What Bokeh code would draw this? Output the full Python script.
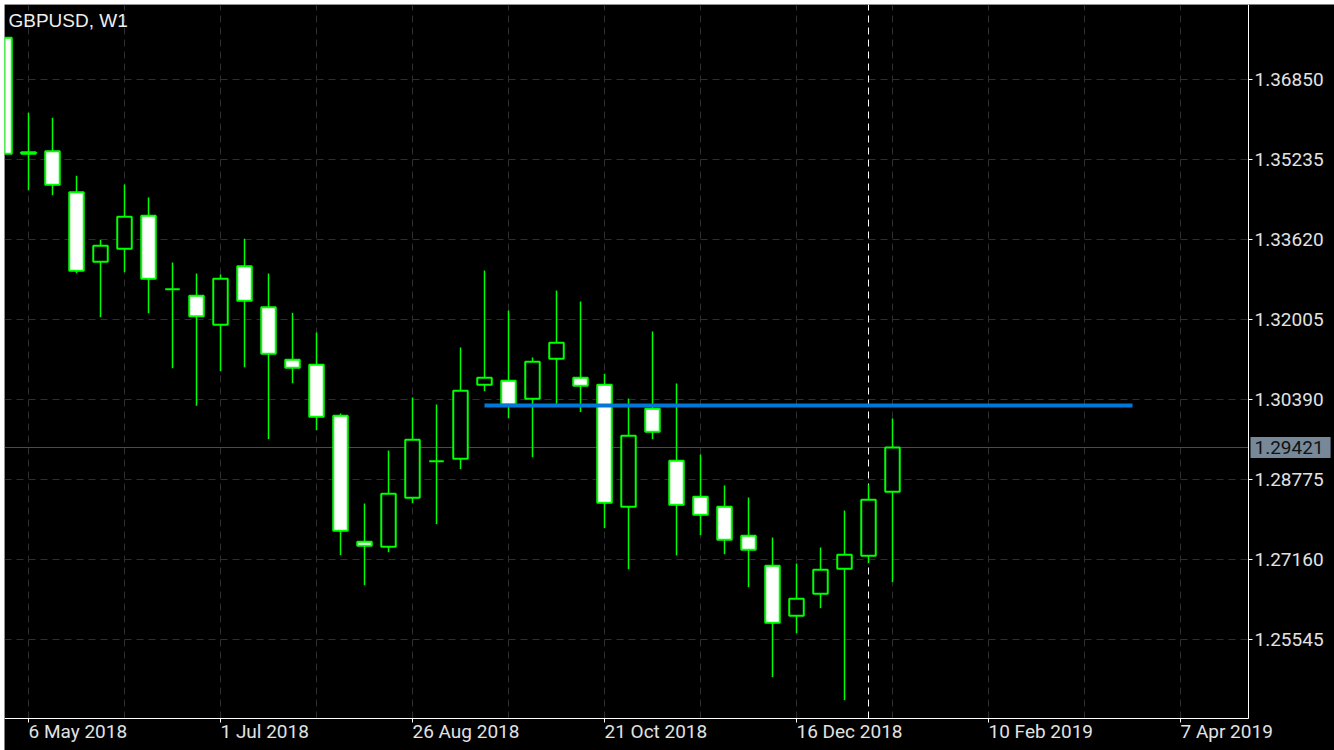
import pandas as pd
from bokeh.plotting import figure
from bokeh.models import (ColumnDataSource, FixedTicker, Label, Range1d, PrintfTickFormatter,
                          LinearAxis, DatetimeAxis, Grid, BoxAnnotation)
from bokeh.embed import file_html
from bokeh.resources import INLINE

# ---------------- data ----------------
chart_title = "GBPUSD, W1"
first_week = "2018-04-29"
n_weeks = 38
weeks = pd.date_range(first_week, periods=n_weeks, freq="7D")

open_ = [1.37692, 1.35350, 1.35403, 1.34575, 1.33170, 1.33432, 1.34098, 1.32617,
         1.32483, 1.31898, 1.33081, 1.32253, 1.31191, 1.31091, 1.30061, 1.27517,
         1.27416, 1.28406, 1.29144, 1.29193, 1.30687, 1.30768, 1.30404, 1.31212,
         1.30828, 1.30687, 1.28224, 1.30202, 1.29153, 1.28426, 1.28224, 1.27638,
         1.27033, 1.26023, 1.26468, 1.26972, 1.27235, 1.28527]
high = [1.37692, 1.36178, 1.36077, 1.34906, 1.33614, 1.34730, 1.34468, 1.33156,
        1.32934, 1.32913, 1.33634, 1.32934, 1.32140, 1.31743, 1.30107, 1.28290,
        1.29360, 1.30430, 1.30289, 1.31440, 1.32994, 1.32187, 1.31238, 1.32590,
        1.32368, 1.30909, 1.30410, 1.31763, 1.30713, 1.29280, 1.28654, 1.28412,
        1.27604, 1.27079, 1.27402, 1.28149, 1.28674, 1.30006]
low = [1.35350, 1.34615, 1.34514, 1.32940, 1.32051, 1.32960, 1.32132, 1.31022,
       1.30263, 1.30961, 1.31042, 1.29589, 1.30719, 1.29770, 1.27247, 1.26641,
       1.27307, 1.28297, 1.27873, 1.28983, 1.30558, 1.30012, 1.29225, 1.30300,
       1.30134, 1.27792, 1.26964, 1.29589, 1.27241, 1.27651, 1.27267, 1.26601,
       1.24784, 1.25672, 1.26177, 1.24320, 1.27085, 1.26702]
close = [1.35350, 1.35382, 1.34724, 1.32988, 1.33493, 1.34078, 1.32827, 1.32617,
         1.32072, 1.32827, 1.32383, 1.31313, 1.31030, 1.30041, 1.27739, 1.27437,
         1.28486, 1.29576, 1.29144, 1.30566, 1.30828, 1.30289, 1.31151, 1.31535,
         1.30667, 1.28305, 1.29657, 1.29738, 1.28264, 1.28062, 1.27558, 1.27356,
         1.25882, 1.26367, 1.26952, 1.27255, 1.28365, 1.29421]

price_ticks = [1.25545, 1.27160, 1.28775, 1.30390, 1.32005, 1.33620, 1.35235, 1.36850]
date_tick_dates = ["2018-05-06", "2018-07-01", "2018-08-26", "2018-10-21",
                   "2018-12-16", "2019-02-10", "2019-04-07"]
date_tick_labels = ["6 May 2018", "1 Jul 2018", "26 Aug 2018", "21 Oct 2018",
                    "16 Dec 2018", "10 Feb 2019", "7 Apr 2019"]

bid_price = 1.29421
level_price = 1.30269
level_from = "2018-09-16"
level_to = "2019-03-24"
separator_date = "2019-01-06"

# ---------------- layout constants ----------------
WEEK = 7 * 24 * 3600 * 1000.0
PX_PER_WEEK = 24.0
PXX = WEEK / PX_PER_WEEK          # ms per pixel
CANVAS_W, CANVAS_H = 1330, 746    # drawn area (page offset 4px)
INNER_W, INNER_H = 1244, 714      # chart window inside the white border
Y_START, Y_END = 1.23950, 1.38364 # price at bottom / top of chart window
PXY = (Y_END - Y_START) / INNER_H

BG = "#000000"
GREEN = "#00FF00"
GRID = "#2E2E2E"
TXT = "#E2E2E2"
AX_FONT = "Roboto"
FS = "19px"


def ms(d):
    return pd.Timestamp(d).value / 1e6


x_ms = [ms(d) for d in weeks]
x_start = x_ms[0]
x_inner = x_start + INNER_W * PXX
xr0 = x_start
xr1 = xr0 + CANVAS_W * PXX
yr1 = Y_END
yr0 = yr1 - CANVAS_H * PXY

fills = ["#FFFFFF" if c < o else "#000000" for o, c in zip(open_, close)]
src = ColumnDataSource(dict(x=x_ms, open=open_, high=high, low=low, close=close, fill=fills))

p = figure(width=CANVAS_W, height=CANVAS_H,
           x_range=Range1d(xr0, xr1), y_range=Range1d(yr0, yr1),
           x_axis_location=None, y_axis_location=None,
           output_backend="svg", toolbar_location=None,
           min_border_left=0, min_border_top=0, min_border_right=0, min_border_bottom=0,
           background_fill_color=BG, border_fill_color=BG,
           outline_line_color=None, margin=(4, 0, 0, 4))
p.xgrid.visible = False
p.ygrid.visible = False

# grids, limited to the chart window
grid_ms = [ms(d) for d in pd.date_range(date_tick_dates[0], date_tick_dates[-1], freq="28D")]
gx = Grid(dimension=0, ticker=FixedTicker(ticks=grid_ms), cross_bounds=(Y_START, Y_END),
          grid_line_color=GRID, grid_line_dash="7 5", grid_line_width=1)
gy = Grid(dimension=1, ticker=FixedTicker(ticks=price_ticks), cross_bounds=(x_start, x_inner),
          grid_line_color=GRID, grid_line_dash="7 5", grid_line_width=1)
p.add_layout(gx, "center")
p.add_layout(gy, "center")

# right price axis at the chart window edge
ya = LinearAxis(fixed_location=x_inner, bounds=(Y_START, Y_END),
                ticker=FixedTicker(ticks=price_ticks),
                formatter=PrintfTickFormatter(format="%.5f"),
                major_label_text_font=AX_FONT, major_label_text_font_size=FS,
                major_label_text_color=TXT, major_tick_out=4, major_tick_in=0,
                minor_tick_line_color=None, axis_line_color="#FFFFFF",
                major_tick_line_color="#FFFFFF", major_label_standoff=2)
p.add_layout(ya, "right")

# bottom date axis (tick marks; labels are left-aligned texts below)
tick_ms = [ms(d) for d in date_tick_dates]
xa = DatetimeAxis(fixed_location=Y_START, bounds=(x_start, x_inner),
                  ticker=FixedTicker(ticks=tick_ms),
                  major_label_text_alpha=0, major_label_text_font_size="8px",
                  major_tick_out=4, major_tick_in=0, minor_tick_line_color=None,
                  axis_line_color="#FFFFFF", major_tick_line_color="#FFFFFF")
p.add_layout(xa, "below")

for t, lbl in zip(tick_ms, date_tick_labels):
    p.add_layout(Label(x=t, y=Y_START, y_offset=-1, text=lbl,
                       text_align="left", text_baseline="top",
                       text_font=AX_FONT, text_font_size=FS, text_color=TXT))

# white border (left / top; right and bottom are the axis lines)
p.add_layout(BoxAnnotation(left=x_start, right=x_inner, bottom=Y_START, top=Y_END,
                           fill_alpha=0, line_color="#FFFFFF", line_width=1))

# bid line and period separator under the candles
p.segment(x0=[x_start], y0=[bid_price], x1=[x_inner], y1=[bid_price],
          line_color="#FF0000", line_width=1)
p.segment(x0=[ms(separator_date)], y0=[Y_START], x1=[ms(separator_date)], y1=[Y_END],
          line_color="#FFFFFF", line_width=1, line_dash="7 5")

# candles
body_w = 14.5 * PXX
p.segment(x0="x", y0="high", x1="x", y1="low", source=src, line_color=GREEN, line_width=1.5)
p.vbar(x="x", width=body_w, top="open", bottom="close", source=src,
       fill_color="fill", line_color=GREEN, line_width=2)

# horizontal level line
p.segment(x0=[ms(level_from)], y0=[level_price], x1=[ms(level_to)], y1=[level_price],
          line_color="#0078D7", line_width=4, line_cap="butt")

# title
p.add_layout(Label(x=x_start, y=Y_END, x_offset=4, y_offset=-5, text=chart_title,
                   text_align="left", text_baseline="top",
                   text_font="Liberation Sans", text_font_size=FS, text_color="#EEEEEE"))

# current price tag
TAG_PAD = (4, 7, 4, 4)
p.add_layout(Label(x=x_inner, y=bid_price, x_offset=5, text=f"{bid_price:.5f}",
                   text_align="left", text_baseline="middle", text_alpha=0,
                   text_font=AX_FONT, text_font_size=FS,
                   background_fill_color="#FF0000", padding=TAG_PAD))
p.add_layout(Label(x=x_inner, y=bid_price, x_offset=2, text=f"{bid_price:.5f}",
                   text_align="left", text_baseline="middle",
                   text_font=AX_FONT, text_font_size=FS, text_color="#111111",
                   background_fill_color="#778899", padding=TAG_PAD))

open("out.html", "w").write(file_html(p, INLINE))
